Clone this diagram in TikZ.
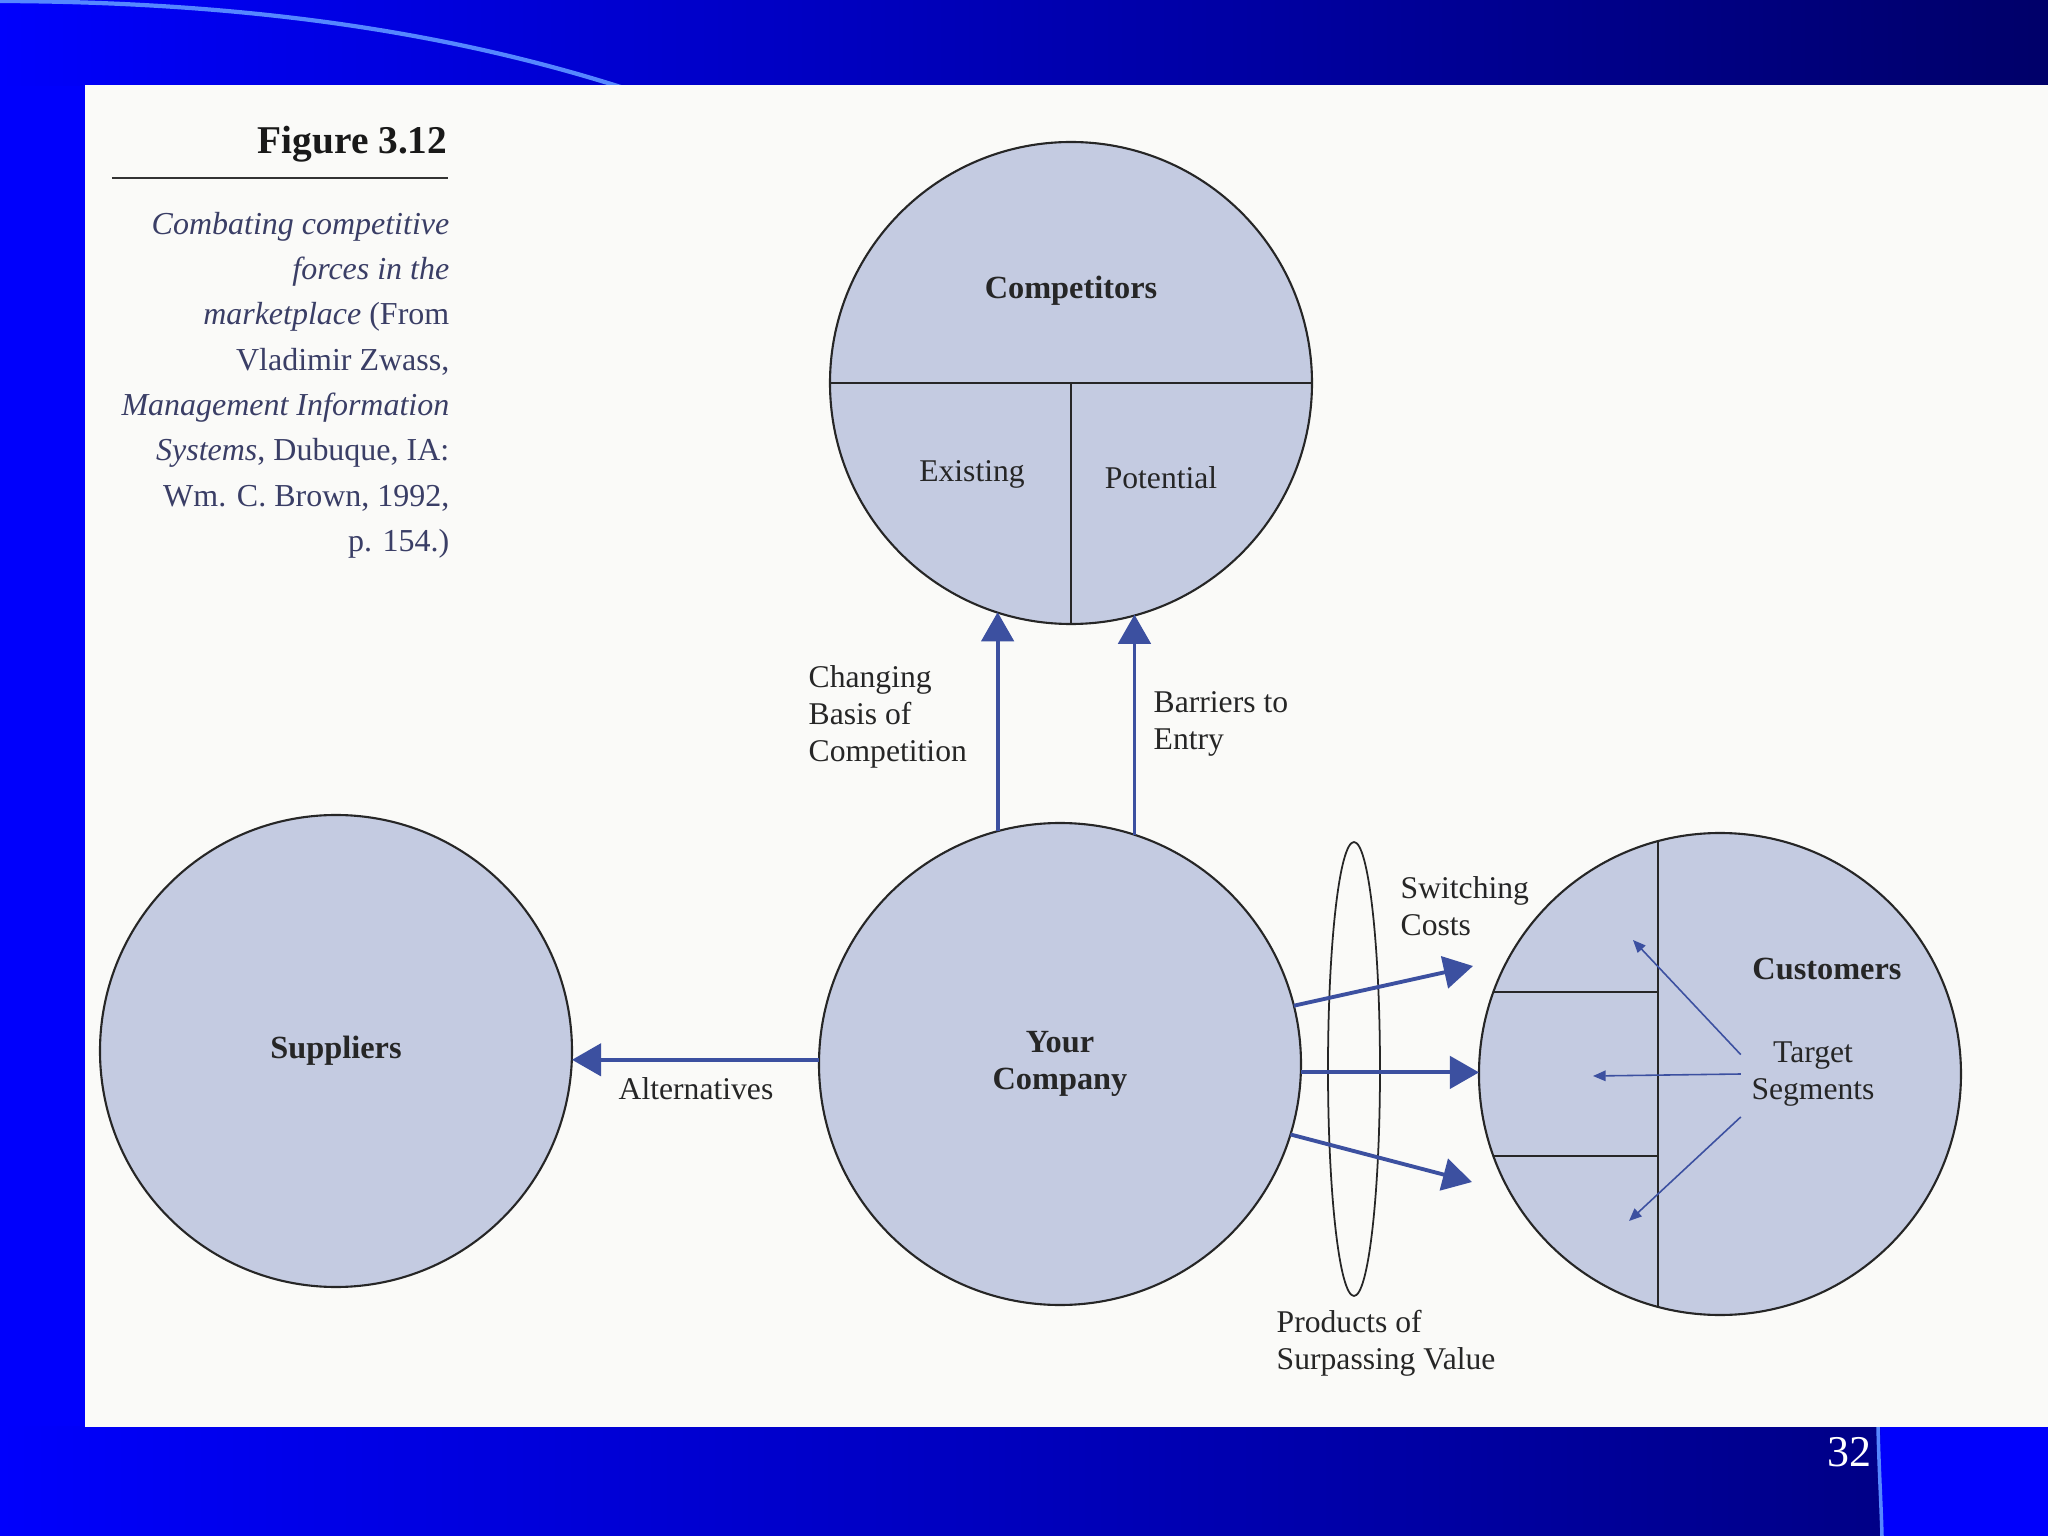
\documentclass[tikz,border=0pt]{standalone}
\usepackage{fontspec}
\setmainfont{Liberation Serif}
\usetikzlibrary{arrows.meta,shapes.geometric}
\definecolor{slidebl}{RGB}{0,0,252}
\definecolor{slidenavy}{RGB}{0,0,105}
\definecolor{bandnavy}{RGB}{0,0,135}
\definecolor{circfill}{RGB}{196,203,225}
\definecolor{arrowbl}{RGB}{60,80,160}
\definecolor{inkgray}{RGB}{38,38,38}
\definecolor{capink}{RGB}{58,62,102}
\definecolor{paper}{RGB}{250,250,248}
\definecolor{swoosh}{RGB}{85,135,255}

\begin{document}
\begin{tikzpicture}[x=1cm,y=-1cm,font=\fontsize{9}{10.5}\selectfont,text=inkgray,
  market/.style={circle,draw=black!85,line width=0.6pt,fill=circfill,minimum size=4.82cm,inner sep=0pt,outer sep=0pt},
  force/.style={draw=arrowbl,line width=1.1pt,-{Triangle[length=8.3pt,width=9.2pt]}},
  segarrow/.style={draw=arrowbl,line width=0.45pt,-{Triangle[length=3.6pt,width=3pt]}},
  divider/.style={draw=black!85,line width=0.6pt},
  lbl/.style={inner sep=0pt,align=left},
  blbl/.style={inner sep=0pt,align=center,font=\fontsize{9.2}{10.5}\selectfont\bfseries}]
  \useasboundingbox (0,0) rectangle (20.48,15.36);
  \fill[slidebl] (0,0) rectangle (20.48,15.36);
  \shade[left color=slidebl,right color=slidenavy] (0,0) rectangle (20.48,0.86);
  \shade[left color=slidebl,right color=bandnavy] (0,14.26) rectangle (18.80,15.36);
  \draw[swoosh,line width=1.2pt] (0,0.01) .. controls (2.6,0.02) and (4.6,0.35) .. (6.3,0.9);
  \draw[swoosh,line width=1pt] (18.78,14.26) .. controls (18.79,14.7) and (18.81,15.0) .. (18.82,15.36);
  \fill[paper] (0.85,0.85) rectangle (20.48,14.27);
  \node[text=white,anchor=east,inner sep=0pt,font=\fontsize{12.5}{14}\selectfont] (pageno) at (18.72,14.52) {32};

  \node[anchor=east,inner sep=0pt,text=black!90,font=\fontsize{11.2}{13}\selectfont\bfseries] (fig) at (4.48,1.44) {Figure 3.12};
  \draw[black!80,line width=0.5pt] (1.12,1.78) -- (4.48,1.78);
  \node[anchor=east,align=right,inner sep=0pt,text=capink,font=\fontsize{9.1}{12.9}\selectfont] (caption) at (4.50,3.85)
    {\textit{Combating competitive}\\ \textit{forces in the}\\ \textit{marketplace} (From\\ Vladimir Zwass,\\
     \textit{Management Information}\\ \textit{Systems}, Dubuque, IA:\\ Wm. C. Brown, 1992,\\ p. 154.)};

  \node[market] (competitors) at (10.71,3.83) {};
  \node[market,font=\fontsize{9.2}{10.5}\selectfont\bfseries,align=center] (company) at (10.60,10.64) {Your\\Company};
  \node[market,minimum size=4.72cm,font=\fontsize{9.2}{10.5}\selectfont\bfseries] (suppliers) at (3.36,10.51) {Suppliers};
  \node[market] (customers) at (17.20,10.74) {};
  \node[ellipse,draw=black!85,line width=0.5pt,minimum width=0.52cm,minimum height=4.54cm,inner sep=0pt] (barrier) at (13.54,10.69) {};

  \draw[divider] (competitors.west) -- (competitors.east);
  \draw[divider] (competitors.center) -- (competitors.south);
  \draw[divider] (customers.105) -- (customers.255);
  \draw[divider] (customers.160) -- (customers.160 -| customers.105);
  \draw[divider] (customers.200) -- (customers.200 -| customers.105);

  \node[blbl] (complab) at (10.71,2.91) {Competitors};
  \node[lbl] (existing) at (9.72,4.74) {Existing};
  \node[lbl] (potential) at (11.61,4.78) {Potential};
  \node[blbl] (custlab) at (18.27,9.69) {Customers};
  \node[lbl,align=center,inner sep=0.1cm] (targets) at (18.13,10.74) {Target\\Segments};

  \node[lbl,anchor=west] (changing) at (8.08,7.17) {Changing\\Basis of\\Competition};
  \node[lbl,anchor=west] (barriers) at (11.53,7.24) {Barriers to\\Entry};
  \node[lbl] (altlab) at (6.96,10.89) {Alternatives};
  \node[lbl,anchor=west] (switching) at (14.00,9.06) {Switching\\Costs};
  \node[lbl,anchor=west] (surpass) at (12.76,13.43) {Products of\\Surpassing Value};

  \coordinate (sw1) at (14.73,9.66);
  \coordinate (sw3) at (14.72,11.82);
  \coordinate (seg1) at (16.33,9.40);
  \coordinate (seg2) at (15.93,10.76);
  \coordinate (seg3) at (16.29,12.21);

  \draw[force] (company.105) -- (company.105 |- competitors.252);
  \draw[force] (company.72) -- (company.72 |- competitors.286);
  \draw[force] (company.179) -- (company.179 -| suppliers.east);
  \draw[force] (company.14) -- (sw1);
  \draw[force] (company.358) -- (company.358 -| customers.west);
  \draw[force] (company.343) -- (sw3);

  \draw[segarrow] (targets.165) -- (seg1);
  \draw[segarrow] (targets.west) -- (seg2);
  \draw[segarrow] (targets.south west) -- (seg3);
\end{tikzpicture}
\end{document}
